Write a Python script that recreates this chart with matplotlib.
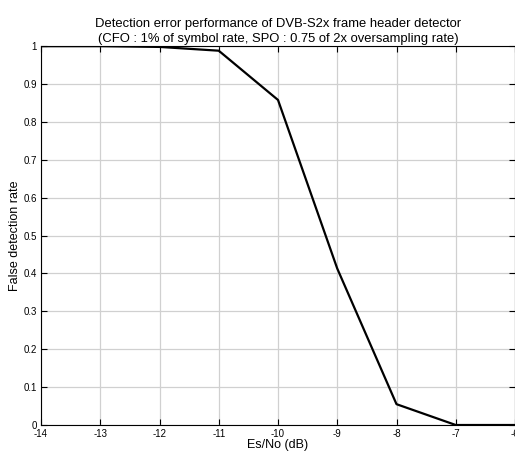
import matplotlib.pyplot as plt
import numpy as np

plt.rcParams['font.family'] = ['Liberation Sans', 'DejaVu Sans']

esno = [-14, -13, -12, -11, -10, -9, -8, -7, -6]
false_rate = [1.0, 1.0, 0.998, 0.988, 0.858, 0.413, 0.055, 0.0, 0.0]

xticks = np.arange(-14, -5, 1)
yticks = np.arange(0, 1.01, 0.1)

fig = plt.figure(figsize=(5.15, 4.57), dpi=100)
ax = fig.add_axes([41 / 515, 0.070, 1.0 - 41 / 515, 0.829])

ax.plot(esno, false_rate, color='black', linewidth=1.6)

ax.set_xlim(-14, -6)
ax.set_ylim(0, 1)
ax.set_xticks(xticks)
ax.set_xticklabels([str(v) for v in xticks])
ax.set_yticks(yticks)
ax.set_yticklabels(['0'] + ['%.1f' % v for v in yticks[1:-1]] + ['1'])
ax.grid(True, color='#d0d0d0', linewidth=0.9)
ax.tick_params(direction='in', length=4, labelsize=7, top=True, right=True,
               width=0.8, pad=3)
for s in ax.spines.values():
    s.set_linewidth(0.8)

ax.set_xlabel('Es/No (dB)', fontsize=9, labelpad=0)
ax.set_ylabel('False detection rate', fontsize=9, labelpad=2)
ax.set_title('Detection error performance of DVB-S2x frame header detector\n'
             '(CFO : 1% of symbol rate, SPO : 0.75 of 2x oversampling rate)',
             fontsize=9.4, pad=3, linespacing=1.35)

fig.savefig('out.png', dpi=100)
